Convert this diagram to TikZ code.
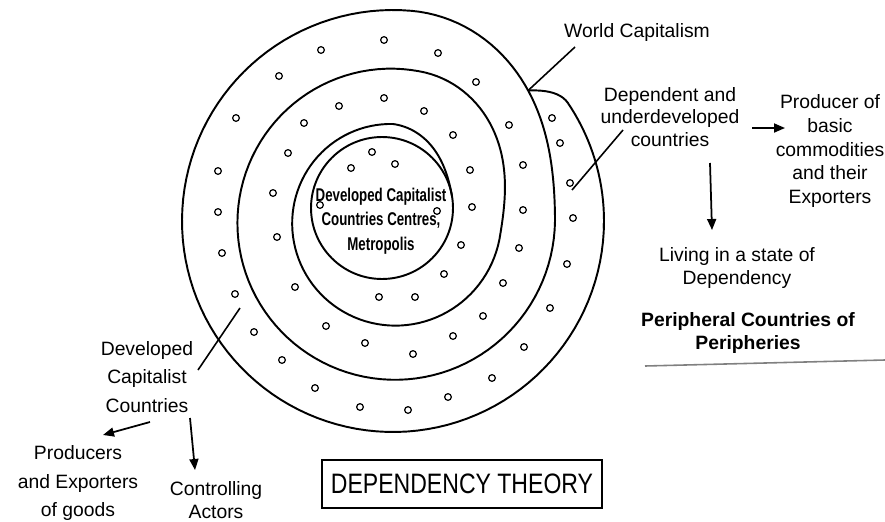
\documentclass[tikz,border=0pt]{standalone}
\usepackage{fontspec}
\setmainfont{Liberation Sans}
\newfontfamily\condfont[FakeStretch=0.72]{Liberation Sans}
\newfontfamily\titlefont[FakeStretch=0.82]{Liberation Sans}
\usetikzlibrary{arrows.meta}

\begin{document}
\begin{tikzpicture}[x=0.02cm,y=-0.02cm,line width=1.1pt,>={Triangle[length=2.2mm,width=1.8mm]},
  lbl/.style={align=center,inner sep=0pt,font=\fontsize{11}{13}\selectfont},
  dot/.style={line width=0.7pt},
  ptr/.style={line width=0.9pt},
  arr/.style={line width=1pt,->}]
  \useasboundingbox (0,0) rectangle (885,521);
  % spiral, from the outer circle inwards, last turn round the centre
  \draw plot[domain=0:275,samples=100] ({393+211*cos(\x)},{221+211*sin(\x)})
    -- plot[domain=275:360,samples=40] ({393+(211-24.5*(1-cos(180*(\x-275)/85)))*cos(\x)},{221+(211-24.5*(1-cos(180*(\x-275)/85)))*sin(\x)})
    -- plot[domain=360:640,samples=90] ({393+(162-10*(\x-360)/280)*cos(\x)},{221+(162-10*(\x-360)/280)*sin(\x)})
    -- plot[domain=640:730,samples=40] ({393+(152-22*(1-cos(2*(\x-640))))*cos(\x)},{221+(152-22*(1-cos(2*(\x-640))))*sin(\x)})
    -- plot[domain=730:990,samples=80] ({393+(108-11*(\x-730)/260)*cos(\x)},{221+(108-11*(\x-730)/260)*sin(\x)})
    -- plot[domain=277.5:350,samples=30] ({382+(84.7-6.85*(1-cos(180*(\x-277.5)/72.5)))*cos(\x)},{208+(84.7-6.85*(1-cos(180*(\x-277.5)/72.5)))*sin(\x)});
  % lobe of the dependent countries
  \coordinate (J) at ({393+187.9*cos(316)},{221+187.9*sin(316)});
  \draw (J) -- plot[domain=316:326,samples=12] ({393+(187.9+23.1*sin(9*(\x-316)))*cos(\x)},{221+(187.9+23.1*sin(9*(\x-316)))*sin(\x)})
    -- plot[domain=326:362,samples=20] ({393+211*cos(\x)},{221+211*sin(\x)});
  % centre
  \coordinate (core) at (382,208);
  \draw (core) circle (1.42cm);
  % dots
  \foreach \dx/\dy in {552/118,560/143,570/183,573/218,567/264,550/308,524/347,492/378,448/397,
      408/410,360/407,315/388,282/360,254/332,235/294,222/253,218/212,218/171,236/118,279/76,
      321/50,384/40,438/53,476/82,509/125,523/165,523/210,519/248,503/283,483/316,453/336,
      413/354,365/343,326/326,295/287,277/237,273/193,288/153,304/123,339/106,384/98,424/111,
      453/135,470/170,472/207,461/245,444/274,415/297,379/297,372/152,351/168,395/164,320/205,437/211}
    \draw[dot] (\dx,\dy) circle (1.9pt);
  % labels
  \node[lbl,font=\condfont\bfseries\fontsize{10.5}{14}\selectfont] (metro) at (381,221) {Developed Capitalist\\Countries Centres,\\Metropolis};
  \node[lbl] (wc) at (637,33) {World Capitalism};
  \node[lbl] (dep) at (670,117) {Dependent and\\underdeveloped\\countries};
  \node[lbl,font=\fontsize{11}{13.5}\selectfont] (prod) at (830,151) {Producer of\\basic\\commodities\\and their\\Exporters};
  \node[lbl] (living) at (737,268) {Living in a state of\\Dependency};
  \node[lbl,font=\bfseries\fontsize{11}{13}\selectfont] (peri) at (748,333) {Peripheral Countries of\\Peripheries};
  \node[lbl,font=\fontsize{11}{16}\selectfont] (dcc) at (147,377) {Developed\\Capitalist\\Countries};
  \node[lbl,font=\fontsize{11}{16.5}\selectfont] (pe) at (78,483) {Producers\\and Exporters\\of goods};
  \node[lbl,font=\fontsize{11}{13.5}\selectfont] (ca) at (216,500) {Controlling\\Actors};
  \node[draw,line width=0.8pt,minimum width=5.6cm,minimum height=0.96cm,
    font=\titlefont\fontsize{16}{18}\selectfont] (title) at (462,484) {DEPENDENCY THEORY};
  % pointers and arrows
  \coordinate (wcTail) at (575,47);
  \coordinate (depTail) at (623,130);
  \coordinate (depTip) at (572,190);
  \coordinate (dccTail) at (198,370);
  \coordinate (dccTip) at (240,308);
  \draw[ptr] (wcTail) -- (J);
  \draw[ptr] (depTail) -- (depTip);
  \draw[ptr] (dccTail) -- (dccTip);
  \coordinate (toProd) at (752,128);
  \coordinate (atProd) at (785,128);
  \coordinate (toLiving) at (710,163);
  \coordinate (atLiving) at (712,230);
  \coordinate (toPe) at (150,422);
  \coordinate (atPe) at (103,435);
  \coordinate (toCa) at (190,418);
  \coordinate (atCa) at (195,470);
  \draw[arr] (toProd) -- (atProd);
  \draw[arr] (toLiving) -- (atLiving);
  \draw[arr] (toPe) -- (atPe);
  \draw[arr] (toCa) -- (atCa);
  % rule under the peripheries
  \coordinate (ruleA) at (645,366);
  \coordinate (ruleB) at (885,360);
  \draw[gray,line width=0.9pt] (ruleA) -- (ruleB);
\end{tikzpicture}
\end{document}
